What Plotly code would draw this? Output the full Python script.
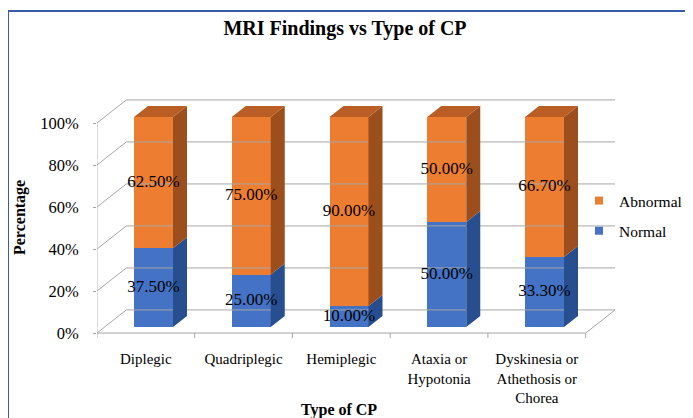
import plotly.graph_objects as go

# ---------------- data ----------------
categories = ["Diplegic", "Quadriplegic", "Hemiplegic",
              "Ataxia or<br>Hypotonia",
              "Dyskinesia or<br>Athethosis or<br>Chorea"]
normal = [37.5, 25.0, 10.0, 50.0, 33.3]
abnormal = [62.5, 75.0, 90.0, 50.0, 66.7]
y_ticks = [0, 20, 40, 60, 80, 100]
y_tick_labels = ["0%", "20%", "40%", "60%", "80%", "100%"]

# ---------------- layout geometry (screen pixels) ----------------
W, H = 693, 418
OFF = 8                                     # page body margin of the html
PL, PR, PT, PB = 97, 625, 90, 345          # plot area (screen px)
X_STEP = 97.75                              # px per category
X0_PX = 153.5                               # px of category 0 (bar front plane)
Y_SCALE = 2.1                               # px per percent
Y0_PX = 327                                 # px of 0% on bar front plane

BAR_W = 39 / X_STEP
DX = 14 / X_STEP                            # oblique depth offset per depth unit
DY = 11 / Y_SCALE
FRONT_D, BACK_D = -0.55, 1.55               # floor depth extent (bar is 0..1)
TICK = 5 / Y_SCALE

n = len(categories)
VMAX = y_ticks[-1]

FONT = "Liberation Serif, Times New Roman, serif"
GRID = "#A6A6A6"
ORANGE, ORANGE_SIDE, ORANGE_TOP = "#ED7D31", "#9C4E1D", "#BA5E26"
BLUE, BLUE_SIDE = "#4472C4", "#274E8E"


def proj(xw, v, d):
    return xw + d * DX, v + d * DY


def px_x(p):
    return (p - PL) / (PR - PL)


def px_y(p):
    return (PB - p) / (PB - PT)


fig = go.Figure()

# ---------------- walls, floor, gridlines ----------------
gx, gy = [], []


def seg(a, b):
    gx.extend([a[0], b[0], None])
    gy.extend([a[1], b[1], None])


for v in y_ticks:
    seg(proj(-0.5, v, FRONT_D), proj(-0.5, v, BACK_D))
    seg(proj(-0.5, v, BACK_D), proj(n - 0.5, v, BACK_D))
seg(proj(-0.5, 0, FRONT_D), proj(-0.5, VMAX, FRONT_D))
seg(proj(-0.5, 0, FRONT_D), proj(n - 0.5, 0, FRONT_D))
seg(proj(n - 0.5, 0, FRONT_D), proj(n - 0.5, 0, BACK_D))
for k in range(n + 1):
    seg(proj(k - 0.5, 0, FRONT_D), proj(k - 0.5, -TICK, FRONT_D))

fig.add_trace(go.Scatter(x=gx, y=gy, mode="lines",
                         line=dict(color=GRID, width=1),
                         hoverinfo="skip", showlegend=False, cliponaxis=False))

# ---------------- bar front faces ----------------
xs = list(range(n))
fig.add_trace(go.Bar(x=xs, y=normal, width=BAR_W, name="Normal",
                     marker=dict(color=BLUE, line=dict(width=0)),
                     showlegend=False))
fig.add_trace(go.Bar(x=xs, y=abnormal, width=BAR_W, name="Abnormal",
                     marker=dict(color=ORANGE, line=dict(width=0)),
                     showlegend=False))

# ---------------- side and top faces ----------------
def side_poly(series_base, series_val):
    px_, py_ = [], []
    for i in range(n):
        b = series_base[i]
        t = b + series_val[i]
        xr = i + BAR_W / 2
        pts = [proj(xr, b, 0), proj(xr, b, 1), proj(xr, t, 1), proj(xr, t, 0), proj(xr, b, 0)]
        for p in pts:
            px_.append(p[0]); py_.append(p[1])
        px_.append(None); py_.append(None)
    return px_, py_


bx, by = side_poly([0] * n, normal)
fig.add_trace(go.Scatter(x=bx, y=by, mode="lines", fill="toself",
                         fillcolor=BLUE_SIDE, line=dict(width=0, color=BLUE_SIDE),
                         hoverinfo="skip", showlegend=False))
ox, oy = side_poly(normal, abnormal)
fig.add_trace(go.Scatter(x=ox, y=oy, mode="lines", fill="toself",
                         fillcolor=ORANGE_SIDE, line=dict(width=0, color=ORANGE_SIDE),
                         hoverinfo="skip", showlegend=False))

tx, ty = [], []
for i in range(n):
    t = normal[i] + abnormal[i]
    xl, xr = i - BAR_W / 2, i + BAR_W / 2
    pts = [proj(xl, t, 0), proj(xr, t, 0), proj(xr, t, 1), proj(xl, t, 1), proj(xl, t, 0)]
    for p in pts:
        tx.append(p[0]); ty.append(p[1])
    tx.append(None); ty.append(None)
fig.add_trace(go.Scatter(x=tx, y=ty, mode="lines", fill="toself",
                         fillcolor=ORANGE_TOP, line=dict(width=0, color=ORANGE_TOP),
                         hoverinfo="skip", showlegend=False))

# ---------------- data labels ----------------
lx, ly, lt = [], [], []
for i in range(n):
    lx.append(i); ly.append(normal[i] / 2); lt.append(f"{normal[i]:.2f}%")
    lx.append(i); ly.append(normal[i] + abnormal[i] / 2); lt.append(f"{abnormal[i]:.2f}%")
fig.add_trace(go.Scatter(x=lx, y=ly, text=lt, mode="text",
                         textfont=dict(family=FONT, size=17, color="black"),
                         hoverinfo="skip", showlegend=False, cliponaxis=False))

# ---------------- legend entries ----------------
fig.add_trace(go.Scatter(x=[None], y=[None], mode="markers", name="Abnormal",
                         legendgroup="a",
                         marker=dict(symbol="square", size=8, color=ORANGE)))
fig.add_trace(go.Scatter(x=[None], y=[None], mode="markers", name="Normal",
                         legendgroup="n",
                         marker=dict(symbol="square", size=8, color=BLUE)))

# ---------------- layout ----------------
x_range = [(PL - X0_PX) / X_STEP, (PR - X0_PX) / X_STEP]
y_range = [(Y0_PX - PB) / Y_SCALE, (Y0_PX - PT) / Y_SCALE]

fig.update_layout(
    template="none",
    width=W, height=H,
    margin=dict(l=PL - OFF, r=W - (PR - OFF), t=PT - OFF, b=H - (PB - OFF),
                pad=0, autoexpand=False),
    paper_bgcolor="white", plot_bgcolor="rgba(0,0,0,0)",
    font=dict(family=FONT, color="black"),
    barmode="stack",
    title=dict(text="<b>MRI Findings vs Type of CP</b>",
               font=dict(family=FONT, size=20, color="black"),
               x=(345 - OFF) / W, xref="container", xanchor="center",
               y=1 - (28 - OFF) / H, yref="container", yanchor="middle"),
    xaxis=dict(range=x_range, automargin=False, showgrid=False, zeroline=False,
               showline=False, ticks="",
               tickvals=[proj(i, 0, FRONT_D)[0] for i in range(n)],
               ticktext=categories,
               tickfont=dict(family=FONT, size=15, color="black"),
               ticklabelstandoff=3),
    yaxis=dict(range=y_range, automargin=False, showgrid=False, zeroline=False,
               showline=False, ticks="outside", ticklen=3, tickcolor=GRID,
               tickvals=[proj(-0.5, v, FRONT_D)[1] for v in y_ticks],
               ticktext=y_tick_labels,
               tickfont=dict(family=FONT, size=16.5, color="black"),
               ticklabelstandoff=11),
    legend=dict(x=px_x(579), y=px_y(184), xanchor="left", yanchor="top",
                xref="paper", yref="paper",
                font=dict(family=FONT, size=15.5, color="black"),
                traceorder="grouped", tracegroupgap=7,
                bgcolor="rgba(0,0,0,0)", borderwidth=0, itemwidth=30),
    annotations=[
        dict(text="<b>Percentage</b>", textangle=-90, showarrow=False,
             xref="paper", yref="paper", x=px_x(20), y=px_y(218),
             xanchor="center", yanchor="middle",
             font=dict(family=FONT, size=16, color="black")),
        dict(text="<b>Type of CP</b>", showarrow=False,
             xref="paper", yref="paper", x=px_x(339), y=px_y(410),
             xanchor="center", yanchor="middle",
             font=dict(family=FONT, size=16, color="black")),
    ],
    shapes=[dict(type="rect", xref="paper", yref="paper",
                 x0=px_x(8), y0=px_y(11), x1=px_x(760), y1=px_y(480),
                 line=dict(color="#3A5BA8", width=2), fillcolor="rgba(0,0,0,0)",
                 layer="below")],
)

fig.write_html("out.html")
